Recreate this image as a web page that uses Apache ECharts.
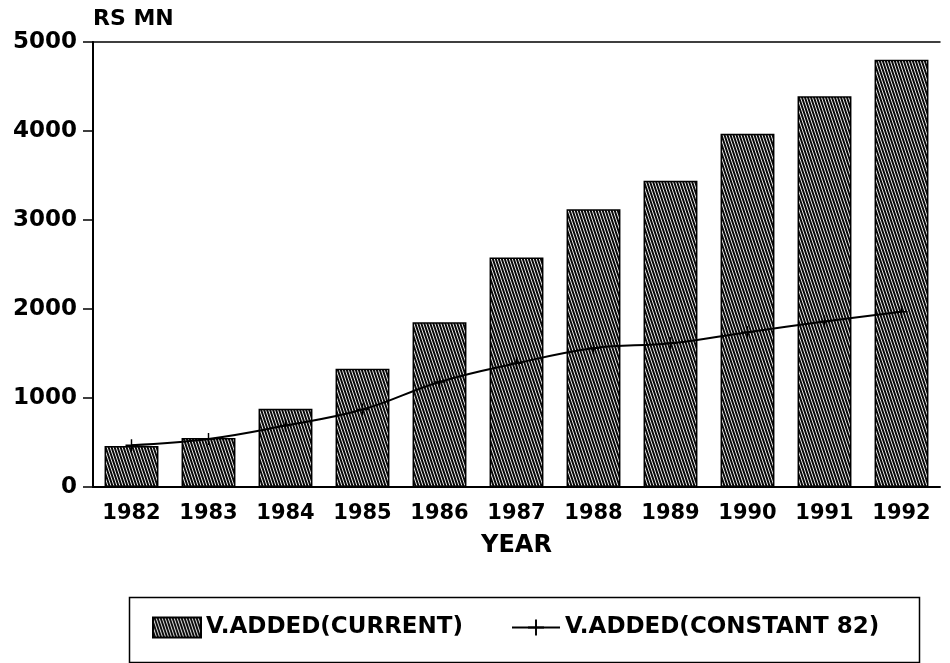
<!DOCTYPE html>
<html><head><meta charset="utf-8">
<script src="https://cdn.jsdelivr.net/npm/echarts@6/dist/echarts.min.js"></script>
<style>html,body{margin:0;padding:0;background:#fff}#c{width:950px;height:663px}</style>
</head><body><div id="c"></div>
<script>
const years = ['1982','1983','1984','1985','1986','1987','1988','1989','1990','1991','1992'];
const currentValues = [460, 550, 880, 1330, 1850, 2580, 3120, 3440, 3970, 4390, 4800];
const constantValues = [470, 540, 690, 870, 1180, 1390, 1560, 1615, 1740, 1860, 1970];
const yTicks = [0, 1000, 2000, 3000, 4000, 5000];

function hatch() {
  const c = document.createElement('canvas');
  c.width = 6; c.height = 18;
  const g = c.getContext('2d');
  g.fillStyle = '#0a0a0a';
  g.fillRect(0, 0, 6, 18);
  g.strokeStyle = '#fff';
  g.lineWidth = 0.9;
  for (let k = -3; k <= 3; k++) {
    g.beginPath();
    g.moveTo(k * 3, 0);
    g.lineTo(k * 3 + 6, 18);
    g.stroke();
  }
  return c;
}
const pat = { image: hatch(), repeat: 'repeat' };
const font = 'DejaVu Sans';
const chart = echarts.init(document.getElementById('c'));
chart.setOption({
  animation: false,
  textStyle: { fontFamily: font },
  grid: { left: 93, right: 10, top: 42, bottom: 176 },
  graphic: [{
    type: 'rect', left: 127, top: 595,
    shape: { width: 790, height: 65 },
    style: { fill: 'none', stroke: '#000', lineWidth: 1.5 }
  }],
  xAxis: [{
    type: 'category', data: years, position: 'bottom',
    name: 'YEAR', nameLocation: 'middle', nameGap: 47,
    nameTextStyle: { fontFamily: font, fontWeight: 'bold', fontSize: 24, color: '#000' },
    axisLine: { lineStyle: { color: '#000', width: 2 } },
    axisTick: { show: false },
    axisLabel: { fontFamily: font, fontWeight: 'bold', fontSize: 21, color: '#000', margin: 16 }
  }, {
    type: 'category', data: years, position: 'top',
    axisLine: { show: true, lineStyle: { color: '#000', width: 1.5 } },
    axisTick: { show: false }, axisLabel: { show: false }
  }],
  yAxis: {
    type: 'value', min: 0, max: 5000, interval: 1000,
    name: 'RS MN', nameLocation: 'end', nameGap: 12,
    nameTextStyle: { fontFamily: font, fontWeight: 'bold', fontSize: 22, color: '#000', align: 'left' },
    axisLine: { show: true, lineStyle: { color: '#000', width: 2 } },
    axisTick: { show: true, length: 10, lineStyle: { color: '#000', width: 1.5 } },
    splitLine: { show: false },
    axisLabel: { fontFamily: font, fontWeight: 'bold', fontSize: 23, color: '#000', margin: 16,
      formatter: v => yTicks.includes(v) ? String(v) : '' }
  },
  legend: {
    left: 152, top: 616, padding: 0,
    itemGap: 48, itemWidth: 48, itemHeight: 20,
    textStyle: { fontFamily: font, fontWeight: 'bold', fontSize: 23, color: '#000' },
    data: [
      { name: 'V.ADDED(CURRENT)', icon: 'rect' },
      { name: 'V.ADDED(CONSTANT 82)' }
    ]
  },
  series: [{
    name: 'V.ADDED(CURRENT)', type: 'bar', data: currentValues,
    barCategoryGap: '30%',
    itemStyle: { color: pat, borderColor: '#000', borderWidth: 1.5 }
  }, {
    name: 'V.ADDED(CONSTANT 82)', type: 'line', data: constantValues, smooth: 0.4,
    symbol: 'path://M0,4.4h10v1.2h-10z M4.4,0h1.2v10h-1.2z', symbolSize: 12,
    itemStyle: { color: '#000' },
    lineStyle: { color: '#000', width: 2 }
  }]
});
</script></body></html>
